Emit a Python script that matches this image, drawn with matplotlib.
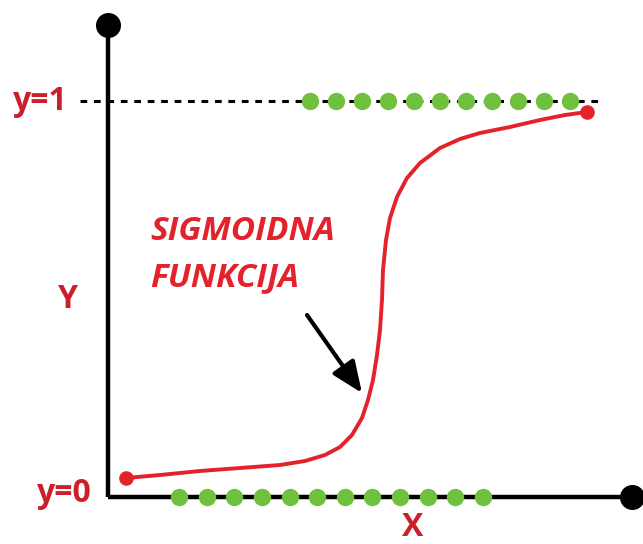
import matplotlib
matplotlib.use("Agg")
import matplotlib.pyplot as plt

# ---- data (image-like coordinates, y grows downward) ----
curve_x = [126, 160, 200, 240, 280, 305, 325, 340, 352, 362, 368, 373, 377, 380,
           382, 383, 386, 390, 397, 407, 420, 440, 460, 480, 510, 540, 565, 587]
curve_y = [478, 475, 471, 468, 465, 461, 455, 447, 435, 418, 400, 380, 355, 330,
           300, 270, 240, 218, 197, 178, 163, 148, 139, 133, 127, 120, 115, 112]
top_dots_x = [310, 336, 362, 388, 414, 440, 466, 492, 518, 544, 570]
bottom_dots_x = [179, 207, 234, 262, 290, 317, 345, 372, 400, 428, 455, 483]
level_one_y = 101
level_zero_y = 497
axis_x = 108
axis_top_y = 25
axis_right_x = 632

RED = "#e3222c"
DARKRED = "#cc1f2c"
GREEN = "#6fc03c"

fig = plt.figure(figsize=(6.43, 5.44), dpi=100)
ax = fig.add_axes([0, 0, 1, 1])
ax.set_xlim(0, 643)
ax.set_ylim(544, 0)
ax.axis("off")

# axes lines
ax.plot([axis_x, axis_x], [axis_top_y, level_zero_y], color="black", lw=3.2,
        solid_capstyle="butt", zorder=2)
ax.plot([axis_x, axis_right_x], [level_zero_y, level_zero_y], color="black", lw=3.2,
        solid_capstyle="butt", zorder=2)
ax.plot([axis_x], [axis_top_y], "o", color="black", ms=17, zorder=3)
ax.plot([axis_right_x], [level_zero_y], "o", color="black", ms=17, zorder=3)

# dashed y=1 line
ax.plot([80, 600], [level_one_y, level_one_y], color="black", lw=2.2,
        linestyle=(0, (2.2, 2.2)), zorder=2)

# green dots
ax.plot(top_dots_x, [level_one_y] * len(top_dots_x), "o", color=GREEN, ms=12.5,
        mec="none", zorder=4)
ax.plot(bottom_dots_x, [level_zero_y] * len(bottom_dots_x), "o", color=GREEN, ms=12.5,
        mec="none", zorder=4)

# sigmoid curve
ax.plot(curve_x, curve_y, color=RED, lw=2.8, solid_joinstyle="round", zorder=5)
ax.plot([curve_x[0], curve_x[-1]], [curve_y[0], curve_y[-1]], "o", color=RED, ms=10.5,
        mec="none", zorder=6)

# arrow
ax.annotate("", xy=(362, 393), xytext=(307, 315),
            arrowprops=dict(arrowstyle="-|>,head_length=1.9,head_width=0.8",
                            color="black", lw=3.0, shrinkA=0, shrinkB=0), zorder=6)

# texts
fam = ["Open Sans", "DejaVu Sans"]
ax.text(40, level_one_y, "y=1", color=DARKRED, fontsize=23, fontweight="bold",
        family=fam, ha="center", va="center")
ax.text(64, level_zero_y - 3, "y=0", color=DARKRED, fontsize=23, fontweight="bold",
        family=fam, ha="center", va="center")
ax.text(68, 300, "Y", color=DARKRED, fontsize=23, fontweight="bold",
        family=fam, ha="center", va="center")
ax.text(413, 527, "X", color=DARKRED, fontsize=23, fontweight="bold",
        family=fam, ha="center", va="center")
ax.text(150, 232, "SIGMOIDNA", color=RED, fontsize=24, fontweight="bold",
        style="italic", family=fam, ha="left", va="center")
ax.text(150, 278, "FUNKCIJA", color=RED, fontsize=24, fontweight="bold",
        style="italic", family=fam, ha="left", va="center")

fig.savefig("out.png", dpi=100, facecolor="white")
